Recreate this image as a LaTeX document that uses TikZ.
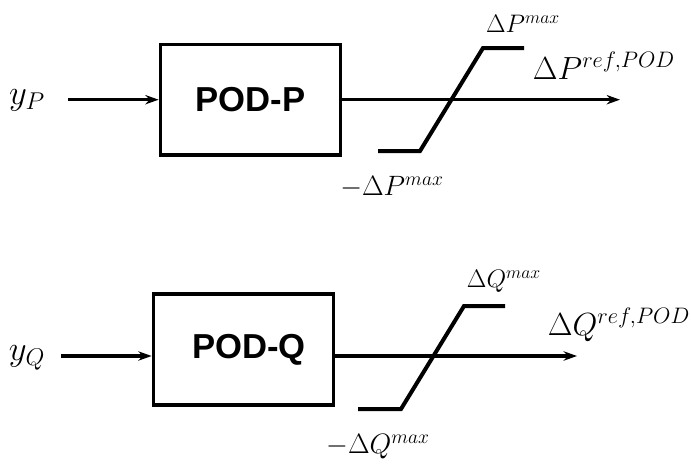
\documentclass[tikz,border=0pt]{standalone}
\usepackage{fix-cm}
\usepackage{fontspec}
\setsansfont{Liberation Sans}
\usetikzlibrary{arrows.meta}

\tikzset{
  podbox/.style={draw,line width=2.8pt,minimum width=135pt,minimum height=83pt,
    font=\sffamily\bfseries\fontsize{26}{30}\selectfont},
  sig/.style={line width=2.6pt},
  lim/.style={line width=3pt},
  inlab/.style={font=\fontsize{26}{30}\selectfont},
  reflab/.style={font=\fontsize{24}{28}\selectfont},
  maxlab/.style={font=\fontsize{19}{22}\selectfont},
  minlab/.style={font=\fontsize{21}{25}\selectfont},
}

\begin{document}
\begin{tikzpicture}[x=0.75pt,y=-0.75pt,>={Stealth[length=10pt,width=7pt]}]
  \useasboundingbox (0,0) rectangle (691,464);
  % oberer Zweig (P)
  \node[podbox] (podP) at (250.5,99.7) {POD-P};
  \node[inlab] (yP) at (27,100) {$y_P$};
  \coordinate (inP) at (68,99.7);
  \coordinate (outP) at (620,99.7);
  \draw[sig,->] (inP) -- (podP.west);
  \draw[sig,->] (podP.east) -- (outP);
  \draw[lim] (378,151) -- (420,151) -- (483,48) -- (524,48);
  \node[maxlab] (maxP) at (523,24) {$\Delta P^{max}$};
  \node[minlab] (minP) at (392,187) {$-\Delta P^{max}$};
  \node[reflab] (refP) at (604,66) {$\Delta P^{ref,POD}$};
  % unterer Zweig (Q)
  \node[podbox] (podQ) at (243.5,349.5) {\hspace*{8pt}POD-Q};
  \node[inlab] (yQ) at (27,358) {$y_Q$};
  \coordinate (inQ) at (61,356);
  \coordinate (outQ) at (577,356);
  \draw[sig,->] (inQ) -- (inQ -| podQ.west);
  \draw[sig,->] (podQ.east |- outQ) -- (outQ);
  \draw[lim] (358,409) -- (401,409) -- (464,306) -- (505,306);
  \node[maxlab] (maxQ) at (504,281) {$\Delta Q^{max}$};
  \node[minlab] (minQ) at (378,447) {$-\Delta Q^{max}$};
  \node[reflab] (refQ) at (619,325) {$\Delta Q^{ref,POD}$};
\end{tikzpicture}
\end{document}
